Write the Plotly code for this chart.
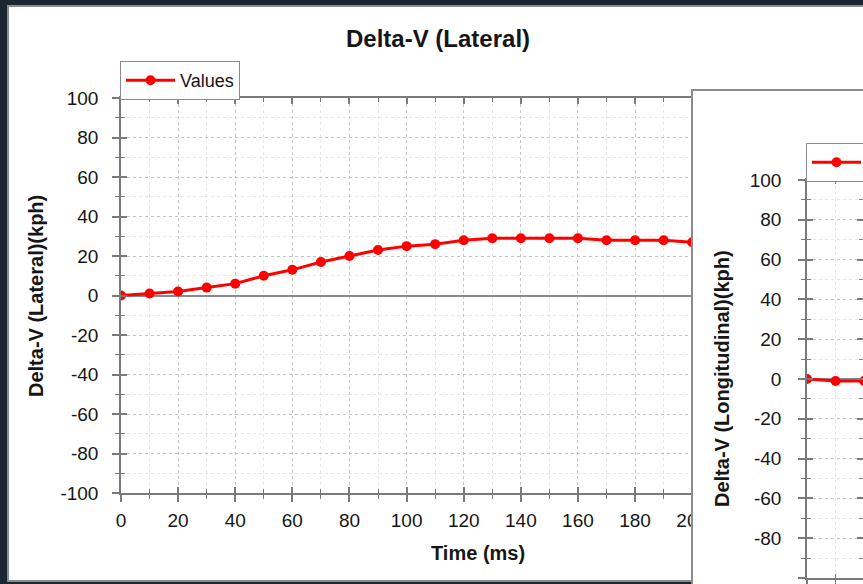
import plotly.graph_objects as go

W, H = 863, 584


def px(x):
    return x / W


def py(y):
    return 1 - y / H


# ---------------- data ----------------
time_ms = [0, 10, 20, 30, 40, 50, 60, 70, 80, 90, 100,
           110, 120, 130, 140, 150, 160, 170, 180, 190, 200]
lateral_kph = [0, 1, 2, 4, 6, 10, 13, 17, 20, 23, 25,
               26, 28, 29, 29, 29, 29, 28, 28, 28, 27]

time2_ms = [0, 10, 20]
longitudinal_kph = [0, -1, -1]

y_tickvals = [-100, -80, -60, -40, -20, 0, 20, 40, 60, 80, 100]
y_ticktext = ["-100", "-80", "-60", "-40", "-20", "0", "20", "40", "60", "80", "100"]
x_tickvals = [0, 20, 40, 60, 80, 100, 120, 140, 160, 180, 200, 220, 240]
x_ticktext = ["0", "20", "40", "60", "80", "100", "120", "140", "160", "180", "200", "220", "240"]

series_name = "Values"
title_lateral = "Delta-V (Lateral)"
ytitle_lateral = "Delta-V (Lateral)(kph)"
ytitle_long = "Delta-V (Longitudinal)(kph)"
xtitle = "Time (ms)"

# ---------------- style ----------------
FONT = "Liberation Sans, Arial, sans-serif"
TXT = "#161616"
GRID = "#c4c4c4"
MINOR_GRID = "#e6e6e6"
AXIS = "#7a7a7a"
RED = "#ff0000"
DARK = "#1b2631"
FRAME = "#8c8c8c"


def main_axis(**kw):
    d = dict(
        showline=True, linecolor=AXIS, linewidth=1.5, mirror=True,
        ticks="outside", ticklen=7, tickwidth=1.5, tickcolor=AXIS,
        showgrid=True, gridcolor=GRID, griddash="dot", gridwidth=1,
        minor=dict(dtick=10, tick0=0, ticks="outside", ticklen=4, tickwidth=1,
                   tickcolor=AXIS, showgrid=True, gridcolor=MINOR_GRID,
                   griddash="dot", gridwidth=1),
        tickfont=dict(size=19, color=TXT, family=FONT),
        zeroline=False, tickmode="array",
    )
    d.update(kw)
    return d


def overlay_axis(**kw):
    d = dict(
        showline=False, showgrid=False, zeroline=False, showticklabels=False,
        ticks="inside", ticklen=6, tickwidth=1.5, tickcolor=AXIS, mirror="ticks",
        minor=dict(dtick=10, tick0=0, ticks="inside", ticklen=4, tickwidth=1,
                   tickcolor=AXIS, showgrid=False),
        tickmode="array",
    )
    d.update(kw)
    return d


fig = go.Figure()

# chart 1 (lateral)
fig.add_trace(go.Scatter(
    x=time_ms, y=lateral_kph, name=series_name, mode="lines+markers",
    line=dict(color=RED, width=3), marker=dict(color=RED, size=10),
    xaxis="x", yaxis="y", legend="legend",
))
# window 2 frame subplot (empty)
fig.add_trace(go.Scatter(x=[], y=[], xaxis="x2", yaxis="y2",
                         showlegend=False, hoverinfo="skip"))
# chart 2 (longitudinal)
fig.add_trace(go.Scatter(
    x=time2_ms, y=longitudinal_kph, name=series_name, mode="lines+markers",
    line=dict(color=RED, width=3), marker=dict(color=RED, size=10),
    xaxis="x3", yaxis="y3", legend="legend2",
))
# inner-tick overlays
fig.add_trace(go.Scatter(x=[], y=[], xaxis="x4", yaxis="y4",
                         showlegend=False, hoverinfo="skip"))
fig.add_trace(go.Scatter(x=[], y=[], xaxis="x5", yaxis="y5",
                         showlegend=False, hoverinfo="skip"))

X1 = [0, 250]
X3 = [0, 19.6]
Y = [-100, 100]

legend_common = dict(xanchor="left", yanchor="top", bgcolor="white",
                     bordercolor=FRAME, borderwidth=1, itemwidth=49,
                     font=dict(size=18, family=FONT, color=TXT))

fig.update_layout(
    width=W, height=H,
    margin=dict(l=0, r=0, t=0, b=0, pad=0, autoexpand=False),
    paper_bgcolor=DARK, plot_bgcolor="white",
    font=dict(family=FONT, color=TXT),
    showlegend=True,
    xaxis=main_axis(domain=[px(121), px(835)], range=X1, anchor="y",
                    tickvals=x_tickvals, ticktext=x_ticktext, ticklabelstandoff=2),
    yaxis=main_axis(domain=[py(493), py(98)], range=Y, anchor="x",
                    tickvals=y_tickvals, ticktext=y_ticktext, ticklabelstandoff=10,
                    zeroline=True, zerolinecolor="#8a8a8a", zerolinewidth=1.5),
    xaxis2=dict(domain=[px(693), 1], range=[0, 1], anchor="y2", side="top",
                showline=True, linecolor=FRAME, linewidth=2, showgrid=False,
                zeroline=False, showticklabels=False, ticks=""),
    yaxis2=dict(domain=[0, py(91)], range=[0, 1], anchor="x2",
                showline=True, linecolor=FRAME, linewidth=2, showgrid=False,
                zeroline=False, showticklabels=False, ticks=""),
    xaxis3=main_axis(domain=[px(807), 1], range=X3, anchor="y3",
                     tickvals=x_tickvals, ticktext=x_ticktext, ticklabelstandoff=2),
    yaxis3=main_axis(domain=[py(578), py(180)], range=Y, anchor="x3",
                     tickvals=y_tickvals, ticktext=y_ticktext, ticklabelstandoff=13,
                     zeroline=True, zerolinecolor="#8a8a8a", zerolinewidth=1.5),
    xaxis4=overlay_axis(overlaying="x", anchor="y4", range=X1, tickvals=x_tickvals),
    yaxis4=overlay_axis(overlaying="y", anchor="x4", range=Y, tickvals=y_tickvals),
    xaxis5=overlay_axis(overlaying="x3", anchor="y5", range=X3, tickvals=x_tickvals),
    yaxis5=overlay_axis(overlaying="y3", anchor="x5", range=Y, tickvals=y_tickvals),
    legend=dict(x=px(120), y=py(61), **legend_common),
    legend2=dict(x=px(806), y=py(143), **legend_common),
    shapes=[
        dict(type="rect", xref="paper", yref="paper", layer="below",
             x0=px(8), x1=px(880), y0=py(581), y1=py(6),
             fillcolor="white", line=dict(color=FRAME, width=2)),
    ],
    annotations=[
        dict(text="<b>" + title_lateral + "</b>", x=px(438), y=py(38),
             xref="paper", yref="paper", showarrow=False,
             xanchor="center", yanchor="middle",
             font=dict(size=24, family=FONT, color=TXT)),
        dict(text="<b>" + xtitle + "</b>", x=px(478), y=py(553),
             xref="paper", yref="paper", showarrow=False,
             xanchor="center", yanchor="middle",
             font=dict(size=20, family=FONT, color=TXT)),
        dict(text="<b>" + ytitle_lateral + "</b>", x=px(36), y=py(296),
             xref="paper", yref="paper", showarrow=False, textangle=-90,
             xanchor="center", yanchor="middle",
             font=dict(size=20, family=FONT, color=TXT)),
        dict(text="<b>" + ytitle_long + "</b>", x=px(722), y=py(379),
             xref="paper", yref="paper", showarrow=False, textangle=-90,
             xanchor="center", yanchor="middle",
             font=dict(size=20, family=FONT, color=TXT)),
    ],
)

fig.write_html(
    "out.html",
    config={"displayModeBar": False},
    post_script="document.body.style.margin='0px';document.body.style.overflow='hidden';",
)
